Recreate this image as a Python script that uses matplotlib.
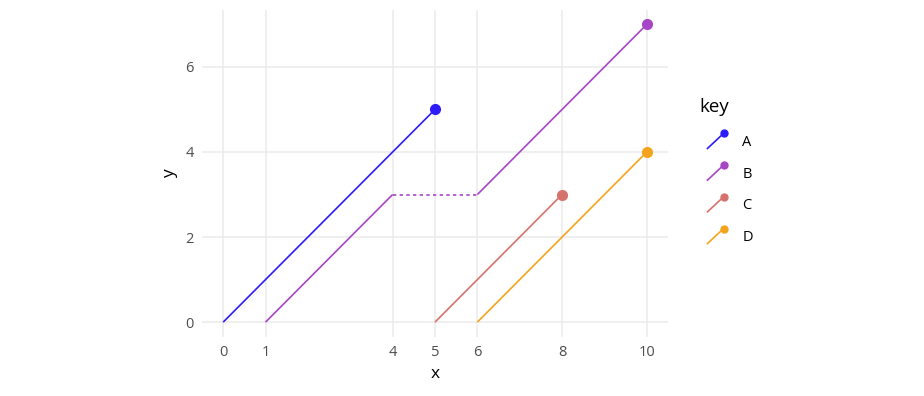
import matplotlib.pyplot as plt
from matplotlib.legend_handler import HandlerBase
from matplotlib.lines import Line2D

plt.rcParams["font.family"] = ["Open Sans", "DejaVu Sans"]

keys = ["A", "B", "C", "D"]
colors = ["#2E1CF8", "#A645C6", "#D6726C", "#F4A41C"]

# solid segments: (key, x0, y0, x1, y1)
seg_key = ["A", "B", "B", "C", "D"]
seg_x0 = [0, 1, 6, 5, 6]
seg_y0 = [0, 0, 3, 0, 0]
seg_x1 = [5, 4, 10, 8, 10]
seg_y1 = [5, 3, 7, 3, 4]

# dashed gap for B
gap_x = [4, 6]
gap_y = [3, 3]

# end points
pt_x = [5, 10, 8, 10]
pt_y = [5, 7, 3, 4]

x_breaks = [0, 1, 4, 5, 6, 8, 10]
y_breaks = [0, 2, 4, 6]


class HandlerDiag(HandlerBase):
    def create_artists(self, legend, orig_handle, xdescent, ydescent,
                       width, height, fontsize, trans):
        c = orig_handle.get_color()
        x0, y0 = -xdescent + 6, -ydescent
        x1, y1 = x0 + width, y0 + height
        ln = Line2D([x0, x1], [y0, y1], color=c, lw=1.2, transform=trans)
        mk = Line2D([x1], [y1], color=c, marker="o", markersize=5,
                    lw=0, transform=trans)
        return [ln, mk]


fig = plt.figure(figsize=(9.24, 3.96), dpi=100)
ax = fig.add_axes([202 / 924, 1 - 337 / 396, 466 / 924, 327.5 / 396])

col = dict(zip(keys, colors))
for k, a, b, c, d in zip(seg_key, seg_x0, seg_y0, seg_x1, seg_y1):
    ax.plot([a, c], [b, d], color=col[k], lw=1.2, solid_capstyle="butt", zorder=3)

ln, = ax.plot(gap_x, gap_y, color=col["B"], lw=1.2, zorder=3)
ln.set_dashes([2, 2])

for k, x, y in zip(keys, pt_x, pt_y):
    ax.plot(x, y, "o", color=col[k], markersize=7, zorder=4)

ax.set_xlim(-0.5, 10.5)
ax.set_ylim(-0.35, 7.35)
ax.set_xticks(x_breaks)
ax.set_yticks(y_breaks)
ax.grid(True, color="#EBEBEB", lw=1.1, zorder=0)
ax.set_axisbelow(True)
for s in ax.spines.values():
    s.set_visible(False)
ax.tick_params(length=0, labelsize=10.5, labelcolor="#4D4D4D", pad=6)
ax.set_xlabel("x", fontsize=12.5, labelpad=4)
ax.set_ylabel("y", fontsize=12.5, labelpad=5)

handles = [Line2D([], [], color=c) for c in colors]
leg = fig.legend(handles, keys, title="key", loc="upper left",
                 bbox_to_anchor=(686 / 924, 1 - 85 / 396), frameon=False,
                 handler_map={Line2D: HandlerDiag()}, handlelength=1.1,
                 handleheight=1.2, labelspacing=1.05, handletextpad=1.85,
                 fontsize=10.5, title_fontsize=13.5)
leg._legend_box.align = "left"
leg._legend_box.sep = 12.5

fig.savefig("out.png", dpi=100)
